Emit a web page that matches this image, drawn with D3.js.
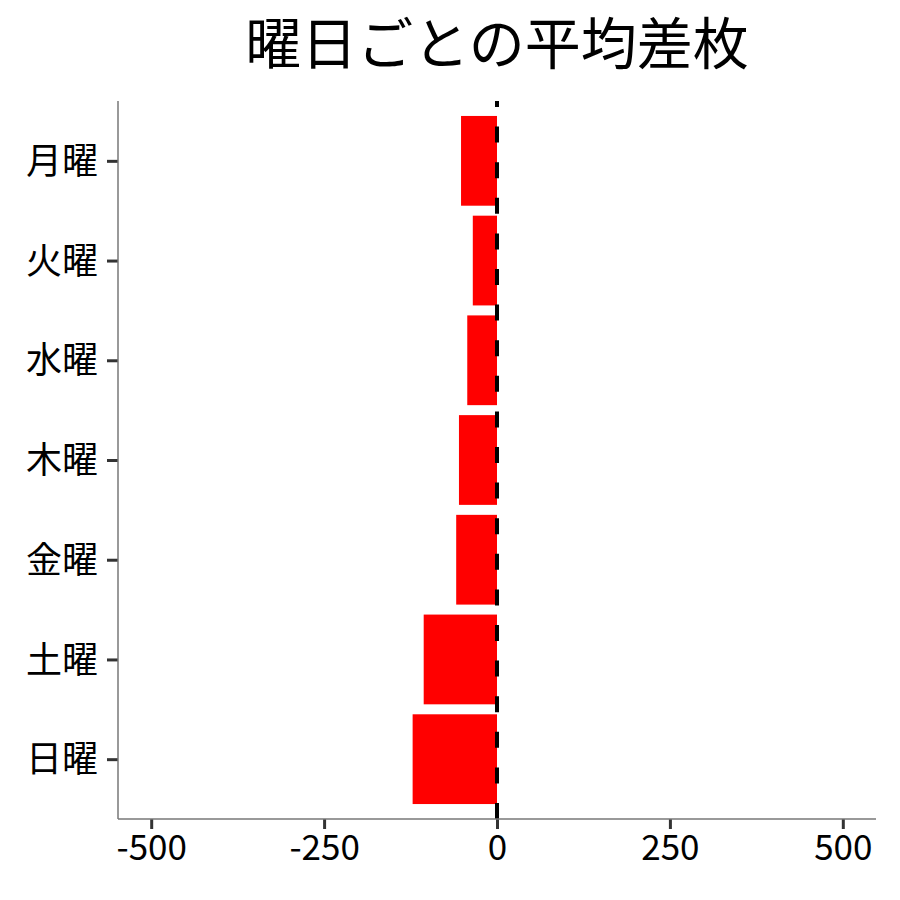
<!DOCTYPE html>
<html>
<head>
<meta charset="utf-8">
<script src="https://cdn.jsdelivr.net/npm/d3@7"></script>
<style>
  html, body { margin: 0; padding: 0; background: #fff; }
  text { font-family: "Noto Sans CJK JP", "Noto Sans", sans-serif; }
</style>
</head>
<body>
<svg id="chart" width="900" height="900"></svg>
<script>
const days = ["月曜", "火曜", "水曜", "木曜", "金曜", "土曜", "日曜"];
const avgDiff = [-52, -35, -43, -55, -59, -106, -122];
const xTicks = [-500, -250, 0, 250, 500];
const chartTitle = "曜日ごとの平均差枚";

const margin = { top: 101, right: 24, bottom: 81, left: 118 };
const width = 900 - margin.left - margin.right;
const height = 900 - margin.top - margin.bottom;

const svg = d3.select("#chart");
const g = svg.append("g")
  .attr("transform", `translate(${margin.left},${margin.top})`);

const x = d3.scaleLinear().domain([-548, 548]).range([0, width]);
// ggplot-style discrete expansion: 0.6 units each side
const y = d3.scalePoint().domain(days).range([0, height]).padding(0.6);
const step = y.step();
const barH = step * 0.9;

// bars
g.selectAll(".bar")
  .data(days.map((d, i) => ({ day: d, v: avgDiff[i] })))
  .enter()
  .append("rect")
  .attr("x", d => x(Math.min(0, d.v)))
  .attr("y", d => y(d.day) - barH / 2)
  .attr("width", d => Math.abs(x(d.v) - x(0)))
  .attr("height", barH)
  .attr("fill", "#ff0000");

// dashed zero line (drawn from bottom up so the dash phase matches)
g.append("line")
  .attr("x1", x(0)).attr("x2", x(0))
  .attr("y1", height).attr("y2", 0)
  .attr("stroke", "#000")
  .attr("stroke-width", 4)
  .attr("stroke-dasharray", "16,19.6");

// x axis
const xAxis = d3.axisBottom(x).tickValues(xTicks).tickSize(10).tickPadding(6)
  .tickFormat(d3.format("d"));
const xg = g.append("g").attr("transform", `translate(0,${height})`).call(xAxis);
xg.select(".domain").remove();
xg.selectAll("line").attr("stroke", "#333").attr("stroke-width", 3);
xg.selectAll("text").attr("fill", "#000").attr("font-size", "35px")
  .text(d => d < 0 ? "-" + Math.abs(d) : d);

// y axis
const yAxis = d3.axisLeft(y).tickSize(11).tickPadding(9);
const yg = g.append("g").call(yAxis);
yg.select(".domain").remove();
yg.selectAll("line").attr("stroke", "#333").attr("stroke-width", 3);
yg.selectAll("text").attr("fill", "#000").attr("font-size", "36px")
  .attr("dy", "0.35em");

// axis lines
g.append("line").attr("x1", 0).attr("x2", 0).attr("y1", 0).attr("y2", height)
  .attr("stroke", "#777").attr("stroke-width", 1.5);
g.append("line").attr("x1", 0).attr("x2", width).attr("y1", height).attr("y2", height)
  .attr("stroke", "#777").attr("stroke-width", 1.5);

// title
svg.append("text")
  .attr("x", margin.left + width / 2)
  .attr("y", 64)
  .attr("text-anchor", "middle")
  .attr("font-size", "56px")
  .attr("fill", "#000")
  .text(chartTitle);
</script>
</body>
</html>
